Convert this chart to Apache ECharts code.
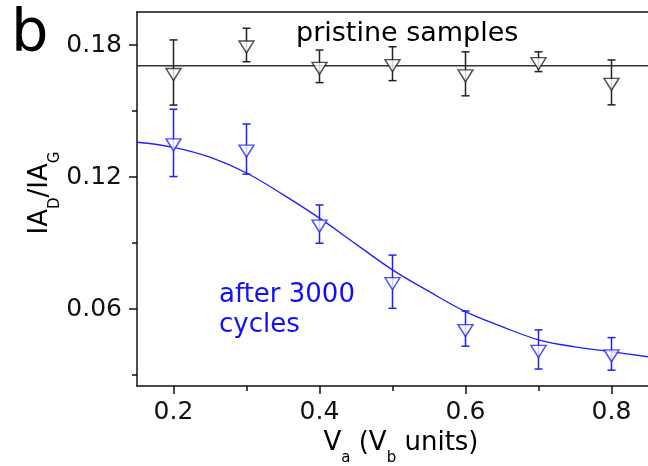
<!DOCTYPE html>
<html>
<head>
<meta charset="utf-8">
<script src="https://cdn.jsdelivr.net/npm/echarts@6/dist/echarts.min.js"></script>
<style>
  html, body { margin: 0; padding: 0; background: #fff; }
  #chart { width: 648px; height: 466px; }
</style>
</head>
<body>
<div id="chart"></div>
<script>
// values
const xVals = [0.2, 0.3, 0.4, 0.5, 0.6, 0.7, 0.8];
const pristine = [0.1675, 0.1800, 0.1703, 0.1715, 0.1669, 0.1724, 0.1630];
const pristineErr = [0.0148, 0.0076, 0.0074, 0.0077, 0.0100, 0.0045, 0.0102];
const cycled = [0.1355, 0.1327, 0.0986, 0.0724, 0.0511, 0.0416, 0.0396];
const cycledErr = [0.0153, 0.0114, 0.0087, 0.0121, 0.0080, 0.0089, 0.0074];

// fitted curves as drawn
const pristineFitX = [0.15, 0.85];
const pristineFitY = [0.1706, 0.1706];
const cycledFitX = [0.15, 0.2, 0.25, 0.3, 0.35, 0.4, 0.45, 0.5, 0.55, 0.6, 0.65, 0.7, 0.75, 0.8, 0.85];
const cycledFitY = [0.1358, 0.1335, 0.1290, 0.1218, 0.1120, 0.1013, 0.0895, 0.0778, 0.0680, 0.0588, 0.0520, 0.0460, 0.0428, 0.0406, 0.0383];

const xMajor = [0.2, 0.4, 0.6, 0.8];
const xMinor = [0.3, 0.5, 0.7];
const yMajor = [0.06, 0.12, 0.18];
const yMinor = [0.03, 0.09, 0.15];

const FONT = "DejaVu Sans";
const INK = "#111";
const BLUE = "#1f1fff";
const TRI = "path://M0 0 L10 0 L5 8.6 Z";

const zip = (xs, ys) => xs.map((x, i) => [x, ys[i]]);

function errorBars(ys, es, color) {
  return {
    type: "custom",
    z: 3,
    silent: true,
    encode: { x: 0, y: [1, 2] },
    data: xVals.map((x, i) => [x, ys[i] - es[i], ys[i] + es[i]]),
    renderItem(params, api) {
      const lo = api.coord([api.value(0), api.value(1)]);
      const hi = api.coord([api.value(0), api.value(2)]);
      const w = 4;
      const style = { stroke: color, lineWidth: 1.5, fill: null };
      return {
        type: "group",
        children: [
          { type: "line", shape: { x1: lo[0], y1: lo[1], x2: hi[0], y2: hi[1] }, style },
          { type: "line", shape: { x1: lo[0] - w, y1: lo[1], x2: lo[0] + w, y2: lo[1] }, style },
          { type: "line", shape: { x1: hi[0] - w, y1: hi[1], x2: hi[0] + w, y2: hi[1] }, style },
        ],
      };
    },
  };
}

function markers(ys, color) {
  return {
    type: "scatter",
    z: 4,
    symbol: TRI,
    symbolSize: [15, 12],
    symbolOffset: [0, 2],
    itemStyle: { color: "#fff", borderColor: color, borderWidth: 1.4 },
    data: zip(xVals, ys),
  };
}

const axisLine = { show: true, lineStyle: { color: INK, width: 1.5 } };
const labelStyle = { color: INK, fontFamily: FONT, fontSize: 25 };

const chart = echarts.init(document.getElementById("chart"));
chart.setOption({
  animation: false,
  backgroundColor: "#fff",
  grid: { left: 137, right: 0, top: 12, bottom: 80, containLabel: false, outerBoundsMode: "none" },
  xAxis: [
    {
      type: "value", min: 0.15, max: 0.85, position: "bottom",
      axisLine,
      axisTick: { show: true, customValues: xMajor, length: 8, lineStyle: { color: INK, width: 1.5 } },
      axisLabel: { ...labelStyle, customValues: xMajor, margin: 14, formatter: (v) => v.toFixed(1) },
      splitLine: { show: false },
    },
    {
      type: "value", min: 0.15, max: 0.85, position: "bottom",
      axisLine: { show: false },
      axisTick: { show: true, customValues: xMinor, length: 5, lineStyle: { color: INK, width: 1.5 } },
      axisLabel: { show: false },
      splitLine: { show: false },
    },
    {
      type: "value", min: 0.15, max: 0.85, position: "top",
      axisLine,
      axisTick: { show: false },
      axisLabel: { show: false },
      splitLine: { show: false },
    },
  ],
  yAxis: [
    {
      type: "value", min: 0.025, max: 0.195, position: "left",
      axisLine,
      axisTick: { show: true, customValues: yMajor, length: 8, lineStyle: { color: INK, width: 1.5 } },
      axisLabel: { ...labelStyle, customValues: yMajor, margin: 15, formatter: (v) => v.toFixed(2) },
      splitLine: { show: false },
    },
    {
      type: "value", min: 0.025, max: 0.195, position: "left",
      axisLine: { show: false },
      axisTick: { show: true, customValues: yMinor, length: 5, lineStyle: { color: INK, width: 1.5 } },
      axisLabel: { show: false },
      splitLine: { show: false },
    },
  ],
  series: [
    {
      type: "line", z: 2, showSymbol: false, silent: true,
      lineStyle: { color: "#333", width: 1.5 },
      data: zip(pristineFitX, pristineFitY),
    },
    {
      type: "line", z: 2, showSymbol: false, silent: true, smooth: 0.4,
      lineStyle: { color: BLUE, width: 1.3 },
      data: zip(cycledFitX, cycledFitY),
    },
    errorBars(pristine, pristineErr, "#222"),
    errorBars(cycled, cycledErr, BLUE),
    markers(pristine, "#222"),
    markers(cycled, BLUE),
  ],
  graphic: [
    {
      type: "text", x: 11, y: 36,
      style: { text: "b", font: `59px '${FONT}'`, fill: "#000", textAlign: "left", textVerticalAlign: "middle" },
    },
    {
      type: "text", x: 296, y: 34,
      style: { text: "pristine samples", font: `27px '${FONT}'`, fill: "#000", textAlign: "left", textVerticalAlign: "middle" },
    },
    {
      type: "text", x: 219, y: 310,
      style: {
        text: "after 3000\ncycles", font: `26px '${FONT}'`, lineHeight: 30,
        fill: "#1010ff", textAlign: "left", textVerticalAlign: "middle",
      },
    },
    {
      type: "text", x: 401, y: 443,
      style: {
        text: "{m|V}{s|a}{m| (V}{s|b}{m| units)}",
        textAlign: "center", textVerticalAlign: "middle",
        rich: {
          m: { fontFamily: FONT, fontSize: 26, fill: "#000" },
          s: { fontFamily: FONT, fontSize: 15, fill: "#000", padding: [30, 0, 0, 0] },
        },
      },
    },
    {
      type: "text", x: 40, y: 193, rotation: Math.PI / 2,
      style: {
        text: "{m|IA}{s|D}{m|/IA}{s|G}",
        textAlign: "center", textVerticalAlign: "middle",
        rich: {
          m: { fontFamily: FONT, fontSize: 26, fill: "#000" },
          s: { fontFamily: FONT, fontSize: 15, fill: "#000", padding: [30, 0, 0, 0] },
        },
      },
    },
  ],
});
</script>
</body>
</html>
